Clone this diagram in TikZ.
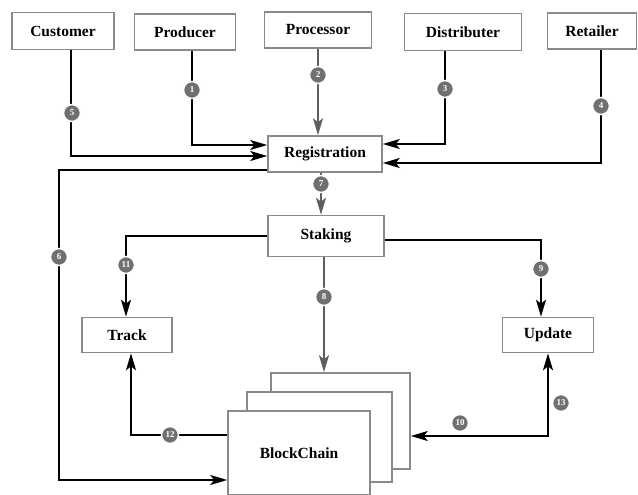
\documentclass[tikz,border=0pt]{standalone}
\usepackage{fontspec}
\setmainfont{Liberation Serif}
\usetikzlibrary{arrows.meta}
\definecolor{boxgray}{HTML}{8A8A8A}
\definecolor{numgray}{HTML}{707070}
\definecolor{flowgray}{HTML}{5E5E5E}
\tikzset{
  actor/.style={draw=boxgray,line width=1.6pt,fill=white,inner sep=0pt,
    font=\bfseries\fontsize{15.5}{17}\selectfont},
  chainbox/.style={draw=boxgray,line width=1.6pt,fill=white,inner sep=0pt},
  link/.style={line width=2pt,black,-{Stealth[length=17pt,width=10pt,inset=4pt]}},
  graylink/.style={link,draw=flowgray,-{Stealth[length=17pt,width=10pt,inset=4pt,fill=flowgray]}},
  step num/.style={circle,fill=numgray,draw=white,line width=1.5pt,minimum size=17pt,
    inner sep=0pt,text=white,font=\bfseries\fontsize{9}{9}\selectfont},
}
\begin{document}
\begin{tikzpicture}[x=1pt,y=-1pt]
\useasboundingbox (0,0) rectangle (638,495);
% actors
\node[actor,minimum width=102pt,minimum height=37pt] (cust) at (63,31) {Customer};
\node[actor,minimum width=101pt,minimum height=36pt] (prod) at (185,32) {Producer};
\node[actor,minimum width=107pt,minimum height=36pt] (proc) at (318,30) {Processor};
\node[actor,minimum width=117pt,minimum height=37pt] (dist) at (463,32) {Distributer};
\node[actor,minimum width=89pt,minimum height=36pt] (ret) at (592,31) {Retailer};
% middle
\node[actor,minimum width=114pt,minimum height=36pt] (reg) at (325,154) {Registration};
\node[actor,minimum width=116pt,minimum height=41pt] (stak) at (326,236) {Staking};
\node[actor,minimum width=90pt,minimum height=35pt] (track) at (127,335) {Track};
\node[actor,minimum width=91pt,minimum height=35pt] (upd) at (548,335) {Update};
% blockchain stack
\node[chainbox,minimum width=139pt,minimum height=96pt] (bc3) at (340.5,421) {};
\node[chainbox,minimum width=145pt,minimum height=90pt] (bc2) at (319.5,437) {};
\node[chainbox,minimum width=142pt,minimum height=84pt,
  font=\bfseries\fontsize{15.5}{17}\selectfont] (bc1) at (299,453) {BlockChain};
% flows into registration
\draw[link] (prod.south -| 192,0) |- (reg.west |- 0,145);
\draw[link] (cust.south -| 71,0) |- (reg.west |- 0,156);
\draw[graylink] (proc.south) -- (proc.south |- reg.north);
\draw[link] (dist.south -| 445,0) |- (reg.east |- 0,144);
\draw[link] (ret.south -| 601,0) |- (reg.east |- 0,163);
% registration to blockchain
\draw[link] (reg.west |- 0,170) -- (59,170) |- (bc1.west |- 0,480);
% staking
\draw[graylink] (reg.south -| 321,0) -- (stak.north -| 321,0);
\draw[graylink] (stak.south -| 324,0) -- (bc3.north -| 324,0);
\draw[link] (stak.west) -| (track.north -| 126,0);
\draw[link] (stak.east |- 0,240) -| (upd.north -| 541,0);
% back from blockchain
\draw[link] (bc1.west |- 0,435) -| (track.south -| 131,0);
\draw[link,{Stealth[length=17pt,width=10pt,inset=4pt]}-{Stealth[length=17pt,width=10pt,inset=4pt]}]
  (bc3.east |- 0,436) -| (upd.south);
% step numbers
\node[step num] (n1) at (192,90) {1};
\node[step num] (n2) at (318,75) {2};
\node[step num] (n3) at (445,89) {3};
\node[step num] (n4) at (601,106) {4};
\node[step num] (n5) at (72,113) {5};
\node[step num] (n6) at (59,257) {6};
\node[step num] (n7) at (321,184) {7};
\node[step num] (n8) at (324,297) {8};
\node[step num] (n9) at (541,269) {9};
\node[step num] (n10) at (460,423) {10};
\node[step num] (n11) at (126,265) {11};
\node[step num] (n12) at (170,435) {12};
\node[step num] (n13) at (561,403) {13};
\end{tikzpicture}
\end{document}
